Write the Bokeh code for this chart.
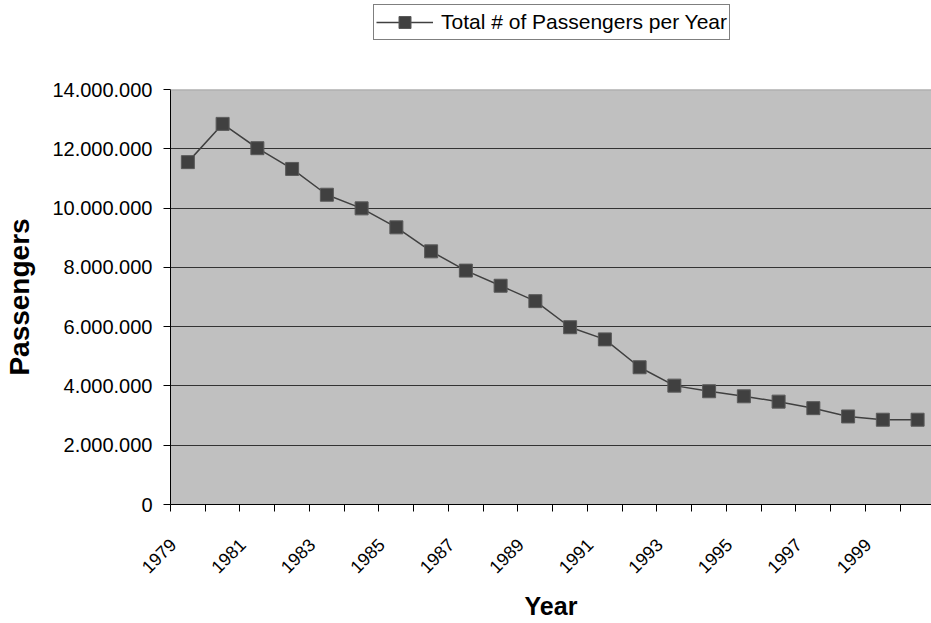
import math
from bokeh.plotting import figure
from bokeh.layouts import column
from bokeh.models import Range1d, FixedTicker, Legend, LegendItem, Span, ColumnDataSource
from bokeh.embed import file_html
from bokeh.resources import INLINE

years = ["1979", "1980", "1981", "1982", "1983", "1984", "1985", "1986", "1987", "1988", "1989",
         "1990", "1991", "1992", "1993", "1994", "1995", "1996", "1997", "1998", "1999", "2000"]
passengers = [11550000, 12840000, 12020000, 11320000, 10450000, 9990000, 9350000, 8540000,
              7890000, 7380000, 6860000, 5980000, 5570000, 4630000, 4010000, 3820000,
              3650000, 3470000, 3250000, 2970000, 2860000, 2860000]
y_ticks = [0, 2000000, 4000000, 6000000, 8000000, 10000000, 12000000, 14000000]
y_tick_labels = ["0", "2.000.000", "4.000.000", "6.000.000", "8.000.000", "10.000.000",
                 "12.000.000", "14.000.000"]
series_name = "Total # of Passengers per Year"

FONT = "Liberation Sans"
LINE_COLOR = "#404040"
MARKER_FILL = "#404040"
MARKER_EDGE = "#5a5a5a"

xpos = [i + 0.5 for i in range(len(years))]
src = ColumnDataSource(dict(x=xpos, y=passengers, year=years))

TOP_H = 77
p = figure(width=931, height=623 - TOP_H,
           x_range=Range1d(0, 21.9), y_range=Range1d(0, 14000000),
           output_backend="svg", toolbar_location=None,
           min_border_left=170, min_border_right=0, min_border_top=12, min_border_bottom=119)
p.background_fill_color = "#C0C0C0"
p.border_fill_color = "white"
p.outline_line_color = None

# grid
p.xgrid.grid_line_color = None
p.ygrid.ticker = FixedTicker(ticks=y_ticks[1:-1])
p.ygrid.grid_line_color = "#333333"
p.ygrid.grid_line_width = 1.2

top_line = Span(location=y_ticks[-1], dimension="width", line_color="#a8a8a8", line_width=2)
p.add_layout(top_line)

# y axis
p.yaxis.ticker = FixedTicker(ticks=y_ticks)
p.yaxis.major_label_overrides = {t: l for t, l in zip(y_ticks, y_tick_labels)}
p.yaxis.minor_tick_line_color = None
p.yaxis.major_tick_in = 0
p.yaxis.major_tick_out = 7
p.yaxis.major_label_standoff = 11
p.yaxis.major_label_text_font = FONT
p.yaxis.major_label_text_font_size = "20px"
p.yaxis.major_label_text_color = "black"
p.yaxis.axis_line_color = "black"
p.yaxis.axis_label = "Passengers"
p.yaxis.axis_label_text_font = FONT
p.yaxis.axis_label_text_font_size = "28px"
p.yaxis.axis_label_text_font_style = "bold"
p.yaxis.axis_label_text_color = "black"
p.yaxis.axis_label_standoff = 14

# x axis: boundary ticks as minor ticks, labels every other year
label_idx = list(range(0, len(years), 2))
label_shift = 0.43
label_ticks = [xpos[i] - label_shift for i in label_idx]
p.xaxis.ticker = FixedTicker(ticks=label_ticks,
                             minor_ticks=list(range(0, len(years) + 1)))
p.xaxis.major_label_overrides = {t: years[i] for t, i in zip(label_ticks, label_idx)}
p.xaxis.major_tick_line_color = None
p.xaxis.major_tick_in = 0
p.xaxis.major_tick_out = 0
p.xaxis.minor_tick_line_color = "black"
p.xaxis.minor_tick_in = 0
p.xaxis.minor_tick_out = 7
p.xaxis.major_label_orientation = math.pi / 4
p.xaxis.major_label_standoff = 30
p.xaxis.major_label_text_font = FONT
p.xaxis.major_label_text_font_size = "18px"
p.xaxis.major_label_text_color = "black"
p.xaxis.axis_line_color = "black"
p.xaxis.axis_label = "Year"
p.xaxis.axis_label_text_font = FONT
p.xaxis.axis_label_text_font_size = "25px"
p.xaxis.axis_label_text_font_style = "bold"
p.xaxis.axis_label_text_color = "black"
p.xaxis.axis_label_standoff = 10

p.line("x", "y", source=src, line_color=LINE_COLOR, line_width=1.5)
p.scatter("x", "y", source=src, marker="square", size=13,
          fill_color=MARKER_FILL, line_color=MARKER_EDGE, line_width=1)

# legend strip above the plot (its frame is aligned with the plot frame)
top = figure(width=931, height=TOP_H, x_range=Range1d(0, 1), y_range=Range1d(0, 1),
             x_axis_type=None, y_axis_type=None, output_backend="svg", toolbar_location=None,
             min_border=0)
top.grid.grid_line_color = None
top.outline_line_color = None
top.background_fill_color = "white"
offscreen = ColumnDataSource(dict(x=[-10, -9], y=[-10, -10]))
lg_line = top.line("x", "y", source=offscreen, line_color=LINE_COLOR, line_width=1.5)
lg_mark = top.scatter("x", "y", source=offscreen, marker="square", size=13,
                      fill_color=MARKER_FILL, line_color=MARKER_EDGE, line_width=1)
legend = Legend(items=[LegendItem(label=series_name, renderers=[lg_line, lg_mark])],
                location=(203, 37), orientation="vertical",
                padding=2, margin=0, spacing=0,
                glyph_width=57, glyph_height=30, label_height=20,
                label_standoff=8,
                label_text_font=FONT, label_text_font_size="21px",
                label_text_color="black",
                border_line_color="black", border_line_width=1,
                background_fill_color="white", background_fill_alpha=1)
top.add_layout(legend, "center")

layout = column(top, p, spacing=0)
open("out.html", "w").write(file_html(layout, INLINE))
